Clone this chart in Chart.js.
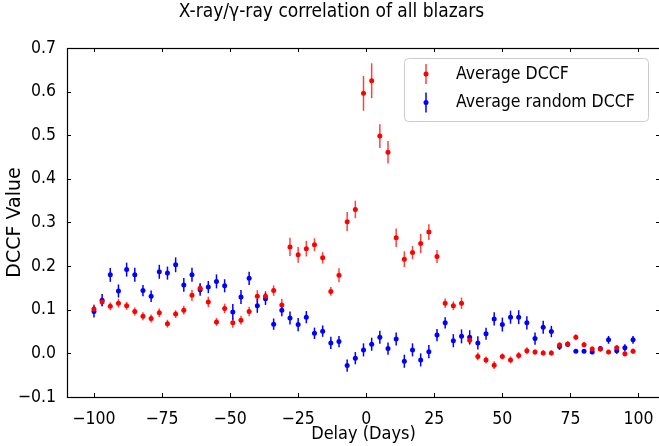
<!DOCTYPE html>
<html>
<head>
<meta charset="utf-8">
<script src="https://cdn.jsdelivr.net/npm/chart.js@4"></script>
<style>
  html, body { margin: 0; padding: 0; background: #fff; overflow: hidden; }
  #wrap { width: 664px; height: 446px; }
</style>
</head>
<body>
<div id="wrap"><canvas id="myChart" width="664" height="446"></canvas></div>
<script>
// lag in days (x axis)
const days = [-100, -97, -94, -91, -88, -85, -82, -79, -76, -73, -70, -67, -64, -61, -58, -55, -52, -49, -46, -43, -40,
              -37, -34, -31, -28, -25, -22, -19, -16, -13, -10, -7, -4, -1,
              2, 5, 8, 11, 14, 17, 20, 23, 26, 29,
              32, 35, 38, 41, 44, 47, 50, 53, 56, 59, 62, 65, 68, 71, 74, 77, 80, 83, 86, 89, 92, 95, 98];

// Average DCCF (red)
const dccf = [0.102, 0.118, 0.108, 0.115, 0.109, 0.096, 0.085, 0.080, 0.093, 0.068, 0.090, 0.099, 0.133, 0.149, 0.118, 0.072, 0.103, 0.070, 0.076, 0.096, 0.131,
              0.131, 0.144, 0.111, 0.244, 0.226, 0.240, 0.249, 0.219, 0.142, 0.179, 0.302, 0.330, 0.596,
              0.625, 0.498, 0.461, 0.265, 0.216, 0.231, 0.252, 0.278, 0.222, 0.115,
              0.109, 0.115, 0.030, -0.007, -0.015, -0.027, -0.007, -0.015, -0.005, 0.006, 0.003, 0.001, 0.001, 0.019, 0.021, 0.037, 0.020, 0.010, 0.010, 0.003, 0.013, -0.001, 0.005];
const dccfErr = [0.010, 0.010, 0.009, 0.010, 0.009, 0.009, 0.009, 0.009, 0.010, 0.009, 0.009, 0.010, 0.013, 0.012, 0.012, 0.009, 0.011, 0.011, 0.010, 0.011, 0.014,
                 0.012, 0.012, 0.014, 0.021, 0.018, 0.018, 0.015, 0.013, 0.010, 0.016, 0.022, 0.020, 0.040,
                 0.040, 0.027, 0.026, 0.021, 0.018, 0.015, 0.022, 0.018, 0.015, 0.011,
                 0.010, 0.013, 0.010, 0.009, 0.008, 0.009, 0.007, 0.008, 0.008, 0.008, 0.006, 0.006, 0.006, 0.006, 0.006, 0.007, 0.006, 0.006, 0.006, 0.005, 0.006, 0.006, 0.006];

// Average random DCCF (blue)
const randDccf = [0.096, 0.122, 0.180, 0.143, 0.192, 0.180, 0.144, 0.131, 0.187, 0.184, 0.203, 0.157, 0.180, 0.146, 0.152, 0.165, 0.155, 0.095, 0.129, 0.172, 0.109,
                  0.125, 0.067, 0.099, 0.081, 0.066, 0.083, 0.046, 0.051, 0.024, 0.027, -0.028, -0.011, 0.008,
                  0.021, 0.037, 0.011, 0.033, -0.018, 0.008, -0.015, 0.004, 0.042, 0.070,
                  0.029, 0.039, 0.037, 0.024, 0.045, 0.079, 0.066, 0.083, 0.083, 0.070, 0.034, 0.060, 0.050, 0.016, 0.021, 0.005, 0.005, 0.003, 0.011, 0.031, 0.006, 0.013, 0.031];
const randErr = [0.014, 0.014, 0.016, 0.015, 0.016, 0.016, 0.013, 0.013, 0.016, 0.015, 0.017, 0.016, 0.016, 0.014, 0.014, 0.016, 0.015, 0.018, 0.016, 0.015, 0.016,
                 0.014, 0.013, 0.014, 0.015, 0.015, 0.014, 0.013, 0.013, 0.014, 0.013, 0.014, 0.014, 0.015,
                 0.015, 0.015, 0.014, 0.015, 0.015, 0.015, 0.015, 0.015, 0.014, 0.013,
                 0.015, 0.016, 0.016, 0.015, 0.014, 0.015, 0.016, 0.015, 0.016, 0.015, 0.014, 0.015, 0.013, 0.008, 0.006, 0.004, 0.004, 0.005, 0.006, 0.009, 0.007, 0.008, 0.009];

const xTicks = [-100, -75, -50, -25, 0, 25, 50, 75, 100];
const yTicks = [-0.1, 0.0, 0.1, 0.2, 0.3, 0.4, 0.5, 0.6, 0.7];

const FONT = "'DejaVu Sans Condensed', 'DejaVu Sans', sans-serif";
const minus = v => (v < 0 ? '\u2212' + Math.abs(v) : String(v));

// error bars, drawn under the markers
const errorBars = {
  id: 'errorBars',
  beforeDatasetsDraw(chart) {
    const ctx = chart.ctx;
    const ys = chart.scales.y;
    chart.data.datasets.forEach((ds, i) => {
      const meta = chart.getDatasetMeta(i);
      ctx.save();
      ctx.strokeStyle = ds.barColor;
      ctx.lineWidth = 1.5;
      meta.data.forEach((pt, j) => {
        const v = ds.data[j].y, e = ds.errors[j];
        ctx.beginPath();
        ctx.moveTo(pt.x, ys.getPixelForValue(v - e));
        ctx.lineTo(pt.x, ys.getPixelForValue(v + e));
        ctx.stroke();
      });
      ctx.restore();
    });
  }
};

// box frame with inward ticks on all four sides, plus the legend
const frame = {
  id: 'frame',
  afterDraw(chart) {
    const ctx = chart.ctx;
    const a = chart.chartArea;
    const xs = chart.scales.x, ys = chart.scales.y;
    ctx.save();
    ctx.strokeStyle = '#000';
    ctx.lineWidth = 1;
    ctx.beginPath();
    xTicks.forEach(v => {
      const px = Math.round(xs.getPixelForValue(v)) + 0.5;
      ctx.moveTo(px, a.bottom); ctx.lineTo(px, a.bottom - 4);
      ctx.moveTo(px, a.top); ctx.lineTo(px, a.top + 4);
    });
    yTicks.forEach(v => {
      const py = Math.round(ys.getPixelForValue(v)) + 0.5;
      ctx.moveTo(a.left, py); ctx.lineTo(a.left + 4, py);
      ctx.moveTo(a.right, py); ctx.lineTo(a.right - 4, py);
    });
    ctx.stroke();
    ctx.lineWidth = 1.2;
    ctx.strokeRect(Math.round(a.left) + 0.5, Math.round(a.top) + 0.5, Math.round(a.right - a.left), Math.round(a.bottom - a.top));

    // legend
    const bw = 244, bh = 63;
    const bx = a.right - 12 - bw, by = a.top + 10;
    ctx.beginPath();
    ctx.roundRect(bx + 0.5, by + 0.5, bw, bh, 4);
    ctx.fillStyle = 'rgba(255,255,255,0.85)';
    ctx.fill();
    ctx.strokeStyle = '#cccccc';
    ctx.lineWidth = 1;
    ctx.stroke();
    ctx.font = '17.5px ' + FONT;
    ctx.textBaseline = 'middle';
    chart.data.datasets.forEach((ds, i) => {
      const cy = by + 16 + i * 28.5, mx = bx + 22;
      ctx.strokeStyle = ds.barColor;
      ctx.lineWidth = 1.5;
      ctx.beginPath();
      ctx.moveTo(mx, cy - 10); ctx.lineTo(mx, cy + 10);
      ctx.stroke();
      ctx.fillStyle = ds.backgroundColor;
      ctx.beginPath();
      ctx.arc(mx, cy, 2.5, 0, Math.PI * 2);
      ctx.fill();
      ctx.fillStyle = '#000';
      ctx.fillText(ds.label, bx + 52, cy);
    });
    ctx.restore();
  }
};

new Chart(document.getElementById('myChart'), {
  type: 'scatter',
  data: {
    datasets: [
      {
        label: 'Average DCCF',
        data: days.map((d, i) => ({ x: d, y: dccf[i] })),
        errors: dccfErr,
        barColor: 'rgba(255,0,0,0.75)',
        backgroundColor: '#ff0000',
        borderColor: '#ff0000',
        pointRadius: 2.5,
        borderWidth: 0
      },
      {
        label: 'Average random DCCF',
        data: days.map((d, i) => ({ x: d, y: randDccf[i] })),
        errors: randErr,
        barColor: '#0000ff',
        backgroundColor: '#0000ff',
        borderColor: '#0000ff',
        pointRadius: 2.5,
        borderWidth: 0
      }
    ]
  },
  options: {
    responsive: false,
    animation: false,
    events: [],
    layout: { padding: { left: 0, right: 1, top: 0, bottom: 0 } },
    scales: {
      x: {
        type: 'linear',
        min: -109.9,
        max: 107.9,
        afterBuildTicks: s => { s.ticks = xTicks.map(v => ({ value: v })); },
        afterFit: s => { s.height = 49; },
        grid: { display: false },
        border: { display: false },
        ticks: {
          color: '#000',
          padding: 4,
          maxRotation: 0,
          autoSkip: false,
          font: { family: FONT, size: 17.5 },
          callback: v => minus(v)
        },
        title: {
          display: true,
          text: 'Delay (Days)',
          color: '#000',
          padding: { top: 0, bottom: 1 },
          font: { family: FONT, size: 18 }
        }
      },
      y: {
        min: -0.1,
        max: 0.7,
        afterBuildTicks: s => { s.ticks = yTicks.map(v => ({ value: v })); },
        afterFit: s => { s.width = 67; },
        grid: { display: false },
        border: { display: false },
        ticks: {
          color: '#000',
          padding: 3,
          autoSkip: false,
          font: { family: FONT, size: 17.5 },
          callback: v => (v < 0 ? '\u2212' + Math.abs(v).toFixed(1) : v.toFixed(1))
        },
        title: {
          display: true,
          text: 'DCCF Value',
          color: '#000',
          padding: { top: 4, bottom: 0 },
          font: { family: "'DejaVu Sans', sans-serif", size: 19 }
        }
      }
    },
    plugins: {
      legend: { display: false },
      tooltip: { enabled: false },
      title: {
        display: true,
        text: 'X-ray/\u03b3-ray correlation of all blazars',
        color: '#000',
        font: { family: FONT, size: 19, weight: 'normal' },
        padding: { top: 1, bottom: 24.2 }
      }
    }
  },
  plugins: [errorBars, frame]
});
</script>
</body>
</html>
